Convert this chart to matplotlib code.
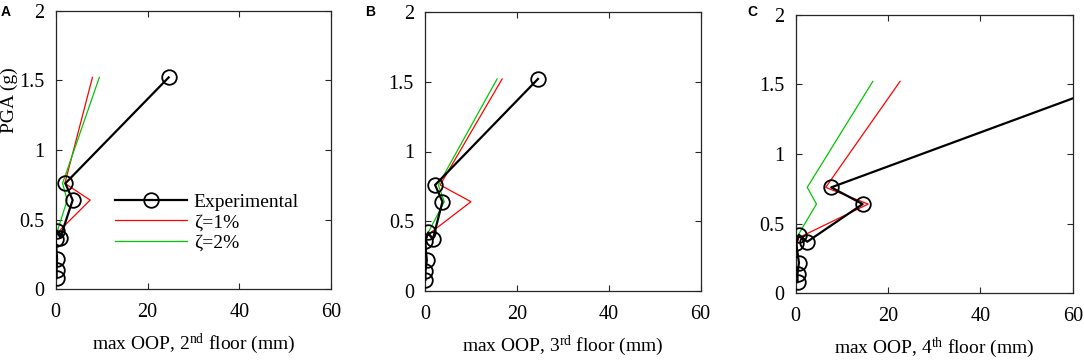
import numpy as np
import matplotlib
matplotlib.use('Agg')
import matplotlib.pyplot as plt

# Fontes no estilo Times (MATLAB)
plt.rcParams['font.family'] = ['Liberation Serif', 'DejaVu Serif']
plt.rcParams['mathtext.fontset'] = 'custom'
plt.rcParams['mathtext.rm'] = 'Liberation Serif'
plt.rcParams['mathtext.it'] = 'Liberation Serif:italic'

# Dados
pga_exp = [0.08, 0.14, 0.22, 0.36, 0.42, 0.37, 0.64, 0.76, 1.52]
oop_exp_2nd = [0.2, 0.2, 0.3, 0.0, 0.3, 1.0, 3.7, 2.1, 24.6]
oop_exp_3rd = [0.1, 0.1, 0.4, 0.0, 0.7, 1.7, 3.8, 2.2, 24.6]
oop_exp_4th = [0.4, 0.4, 0.7, 0.1, 0.7, 2.5, 14.5, 7.7, 70.0]

pga_model = [0.08, 0.14, 0.22, 0.36, 0.40, 0.64, 0.76, 1.52]
zeta1_2nd = [0.0, 0.0, 0.1, 0.1, 0.2, 7.5, 2.0, 8.0]
zeta2_2nd = [0.0, 0.0, 0.1, 0.1, 0.2, 2.5, 1.5, 9.5]
zeta1_3rd = [0.0, 0.0, 0.1, 0.2, 0.5, 10.0, 3.3, 16.8]
zeta2_3rd = [0.0, 0.0, 0.1, 0.2, 0.4, 4.2, 2.9, 15.7]
zeta1_4th = [0.0, 0.0, 0.1, 0.3, 0.7, 15.7, 6.5, 22.6]
zeta2_4th = [0.0, 0.0, 0.1, 0.1, 0.2, 4.5, 2.5, 16.7]

panels = ['A', 'B', 'C']
xlabels = [r'max OOP, 2$^{\mathrm{nd}}$ floor (mm)',
           r'max OOP, 3$^{\mathrm{rd}}$ floor (mm)',
           r'max OOP, 4$^{\mathrm{th}}$ floor (mm)']
exp_data = [oop_exp_2nd, oop_exp_3rd, oop_exp_4th]
z1_data = [zeta1_2nd, zeta1_3rd, zeta1_4th]
z2_data = [zeta2_2nd, zeta2_3rd, zeta2_4th]

W, H = 1084, 363
fig = plt.figure(figsize=(W / 100, H / 100), dpi=100)

# caixas dos eixos em pixels: (esquerda, topo, largura, altura)
boxes = [(55.7, 10.5, 275.5, 278.8),
         (425.0, 12.0, 275.5, 279.0),
         (795.7, 14.5, 277.0, 278.8)]
letter_x = [1, 365, 747]
axis_color = '#262626'

for i in range(3):
    l, t, w, h = boxes[i]
    ax = fig.add_axes([l / W, 1 - (t + h) / H, w / W, h / H])

    ax.plot(exp_data[i], pga_exp, color='black', lw=1.6, marker='o',
            markersize=10.5, markerfacecolor='none', markeredgewidth=1.3,
            label='Experimental', zorder=3)
    ax.plot(z1_data[i], pga_model, color='#ff0000', lw=0.9, label='ζ=1%', zorder=2)
    ax.plot(z2_data[i], pga_model, color='#00c800', lw=0.9, label='ζ=2%', zorder=2)

    ax.set_xlim(0, 60)
    ax.set_ylim(0, 2)
    ax.set_xticks([0, 20, 40, 60])
    ax.set_yticks([0, 0.5, 1, 1.5, 2])
    ax.set_yticklabels(['0', '0.5', '1', '1.5', '2'])
    ax.tick_params(direction='in', top=True, right=True, length=4,
                   width=0.8, color=axis_color, labelsize=14.5)
    ax.tick_params(axis='x', pad=10)
    ax.tick_params(axis='y', pad=8)
    for s in ax.spines.values():
        s.set_color(axis_color)
        s.set_linewidth(0.9)
    ax.set_xlabel(xlabels[i], fontsize=14, labelpad=7)
    if i == 0:
        ax.set_ylabel('PGA (g)', fontsize=14)
        ax.yaxis.set_label_coords(-0.137, 0.68)
        ax.legend(loc='center left', bbox_to_anchor=(0.215, 0.24),
                  frameon=False, fontsize=14, handlelength=3.7,
                  handletextpad=0.35, labelspacing=0.15,
                  borderpad=0, borderaxespad=0)

    fig.text(letter_x[i] / W, 1 - 12 / H, panels[i], fontsize=10,
             fontweight='bold', family='Liberation Sans', va='center')

fig.savefig('out.png', dpi=100)
